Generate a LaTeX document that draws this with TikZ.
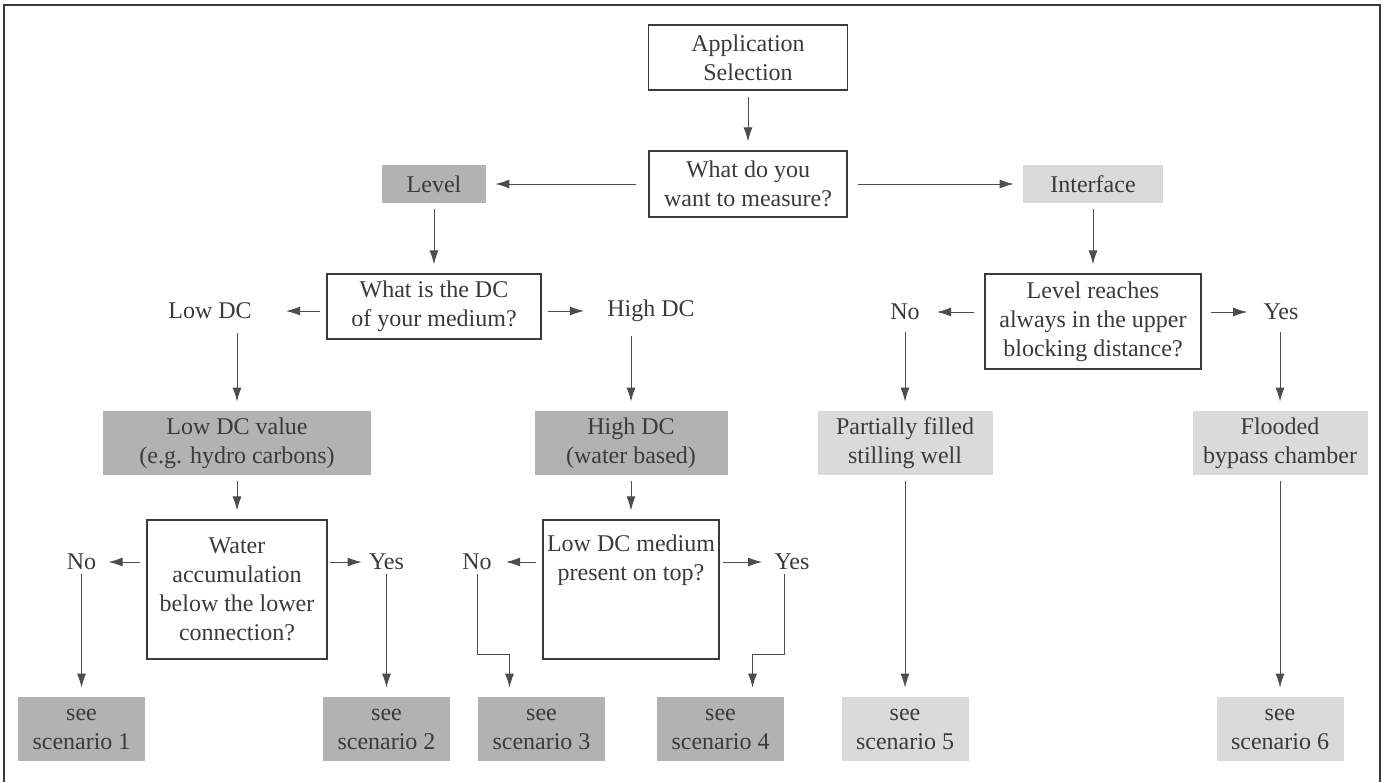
\documentclass[tikz,border=0pt]{standalone}
\usepackage{fontspec}
\setmainfont{Liberation Serif}
\usetikzlibrary{arrows.meta}
\definecolor{ehdark}{HTML}{B2B2B2}
\definecolor{ehlight}{HTML}{DADADA}
\definecolor{ehtext}{HTML}{3A3A3A}
\definecolor{ehline}{HTML}{4D4D4D}
\begin{document}
\begin{tikzpicture}[x=0.5pt,y=-0.5pt]
\tikzstyle{every node}+=[inner sep=0pt, text=ehtext, align=center, font=\fontsize{12}{14.5}\selectfont]
\tikzstyle{qbox}=[draw=ehtext, line width=0.6pt, fill=white]
\tikzstyle{dbox}=[fill=ehdark]
\tikzstyle{lbox}=[fill=ehlight]
\tikzstyle{scbox}=[minimum width=63.5pt, minimum height=32pt]
\tikzstyle{arr}=[draw=ehline, line width=0.5pt, -{Latex[length=7pt,width=4.5pt]}, shorten <=3pt, shorten >=4.5pt]
\useasboundingbox (0,0) rectangle (1386,782);
\draw [ehtext, line width=0.9pt] (4,782) -- (4,5) -- (1380,5) -- (1380,782);
\node [qbox, minimum width=99.5pt, minimum height=32.5pt] (app) at (748,57.5) {Application\\Selection};
\node [qbox, minimum width=99pt, minimum height=33pt] (what) at (748,184) {What do you\\want to measure?};
\node [dbox, minimum width=52pt, minimum height=19pt] (lvl) at (434,184) {Level};
\node [lbox, minimum width=70pt, minimum height=19pt] (intf) at (1093,184) {Interface};
\node [qbox, minimum width=107pt, minimum height=32.5pt] (dcq) at (434,306.5) {What is the DC\\of your medium?};
\node (lowdc) at (210,311) {Low DC};
\node (highdc) at (651,311) {High DC};
\node [dbox, minimum width=134pt, minimum height=32pt] (lowval) at (237,443) {Low DC value\\(e.g. hydro carbons)};
\node [dbox, minimum width=96.5pt, minimum height=32pt] (highval) at (631,443) {High DC\\(water based)};
\node [qbox, minimum width=90pt, minimum height=69.5pt] (waterq) at (237,589.5) {Water\\accumulation\\below the lower\\connection?};
\node [qbox, minimum width=88pt, minimum height=69.5pt] (mdq) at (631,589.5) {};
\node [anchor=north] (mdtext) at (631,534) {Low DC medium\\present on top?};
\node (no1) at (81.5,562) {No};
\node (yes1) at (386.5,562) {Yes};
\node (no2) at (477,562) {No};
\node (yes2) at (792,562) {Yes};
\node [qbox, minimum width=108pt, minimum height=47.5pt] (lvlq) at (1093,321.5) {Level reaches\\always in the upper\\blocking distance?};
\node (no3) at (905,312) {No};
\node (yes3) at (1281,312) {Yes};
\node [lbox, minimum width=87.5pt, minimum height=32pt] (partial) at (905,443) {Partially filled\\stilling well};
\node [lbox, minimum width=87.5pt, minimum height=32pt] (flooded) at (1280,443) {Flooded\\bypass chamber};
\node [dbox, scbox] (sc1) at (81.5,729) {see\\scenario 1};
\node [dbox, scbox] (sc2) at (386.5,729) {see\\scenario 2};
\node [dbox, scbox] (sc3) at (541.5,729) {see\\scenario 3};
\node [dbox, scbox] (sc4) at (720.5,729) {see\\scenario 4};
\node [lbox, scbox] (sc5) at (905,729) {see\\scenario 5};
\node [lbox, scbox] (sc6) at (1280,729) {see\\scenario 6};
\draw [arr] (app) -- (what);
\draw [arr, shorten <=6pt] (what) -- (lvl);
\draw [arr, shorten <=5pt] (what) -- (intf);
\draw [arr] (lvl) -- (dcq);
\draw [arr] (intf) -- (lvlq);
\draw [arr, shorten >=17pt] (dcq.west |- lowdc) -- (lowdc);
\draw [arr, shorten >=11.5pt] (dcq.east |- highdc) -- (highdc);
\draw [arr, shorten <=7pt] (lowval.north |- lowdc.south) -- (lowval);
\draw [arr, shorten <=7pt] (highval.north |- highdc.south) -- (highval);
\draw [arr] (lowval) -- (waterq);
\draw [arr] (highval) -- (mdq);
\draw [arr, shorten >=6pt] (waterq.west |- no1) -- (no1);
\draw [arr, shorten <=1pt, shorten >=3.5pt] (waterq.east |- yes1) -- (yes1);
\draw [arr, shorten >=7pt] (mdq.west |- no2) -- (no2);
\draw [arr, shorten <=1.5pt, shorten >=6pt] (mdq.east |- yes2) -- (yes2);
\draw [arr, shorten <=5pt, shorten >=8.5pt] (lvlq.west |- no3) -- (no3);
\draw [arr, shorten <=4.5pt, shorten >=8pt] (lvlq.east |- yes3) -- (yes3);
\draw [arr, shorten <=2pt] (no1) -- (sc1);
\draw [arr, shorten <=2pt] (yes1) -- (sc2);
\draw [arr, shorten <=2pt] (no2.south) |- ([xshift=-16pt]sc3.north |- 0,654) -- ([xshift=-16pt]sc3.north);
\draw [arr, shorten <=2pt] ([xshift=-4pt]yes2.south) |- ([xshift=16pt]sc4.north |- 0,654) -- ([xshift=16pt]sc4.north);
\draw [arr, shorten <=6pt] (no3) -- (partial);
\draw [arr, shorten <=6pt] (yes3.south -| flooded) -- (flooded);
\draw [arr] (partial) -- (sc5);
\draw [arr] (flooded) -- (sc6);
\end{tikzpicture}
\end{document}
